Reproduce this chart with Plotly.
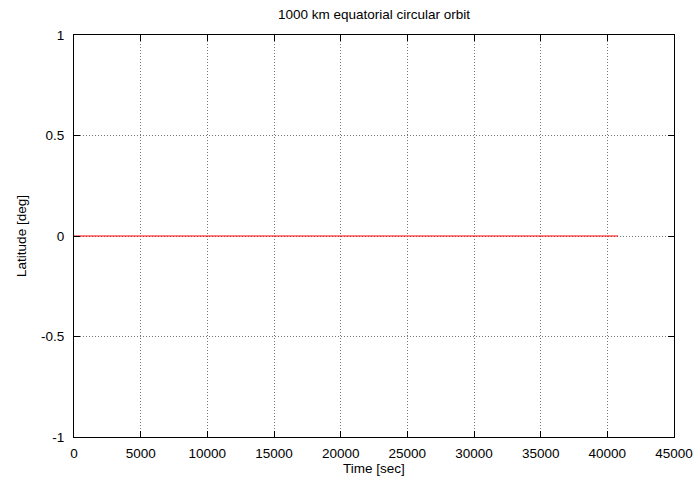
import plotly.graph_objects as go

time_sec = [0, 5000, 10000, 15000, 20000, 25000, 30000, 35000, 40000, 40800]
latitude_deg = [0, 0, 0, 0, 0, 0, 0, 0, 0, 0]

x_ticks = [0, 5000, 10000, 15000, 20000, 25000, 30000, 35000, 40000, 45000]
y_ticks = [-1, -0.5, 0, 0.5, 1]
y_tick_text = ["-1", "-0.5", "0", "0.5", "1"]

font = dict(family="Liberation Sans, Arial, sans-serif", size=13.5, color="black")

fig = go.Figure()
fig.add_trace(go.Scatter(x=time_sec, y=latitude_deg, mode="lines",
                         line=dict(color="#ff0000", width=1.2), showlegend=False,
                         hoverinfo="skip"))

axis_common = dict(showline=True, linecolor="black", linewidth=1, mirror="ticks",
                   ticks="inside", ticklen=6, tickcolor="black", tickwidth=1,
                   showgrid=True, gridcolor="#777777", gridwidth=1, griddash="1px,2px",
                   zeroline=False, tickfont=font, automargin=False)

fig.update_xaxes(range=[0, 45000], tickvals=x_ticks, ticktext=[str(v) for v in x_ticks],
                 ticklabelstandoff=4,
                 title=dict(text="Time [sec]", font=font, standoff=2), **axis_common)
fig.update_yaxes(range=[-1, 1], tickvals=y_ticks, ticktext=y_tick_text,
                 ticklabelstandoff=6,
                 title=dict(text="Latitude [deg]", font=font, standoff=11), **axis_common)

fig.update_layout(
    width=694, height=483,
    margin=dict(l=74, r=20, t=35, b=46),
    paper_bgcolor="white", plot_bgcolor="white",
    font=font,
    title=dict(text="1000 km equatorial circular orbit", font=font,
               x=0.5, xref="paper", y=1 - 14 / 483, yanchor="middle"),
)

fig.write_html("out.html",
               config={"displayModeBar": False},
               post_script="document.body.style.margin='0';document.body.style.padding='0';"
                           "document.documentElement.style.overflow='hidden';")
